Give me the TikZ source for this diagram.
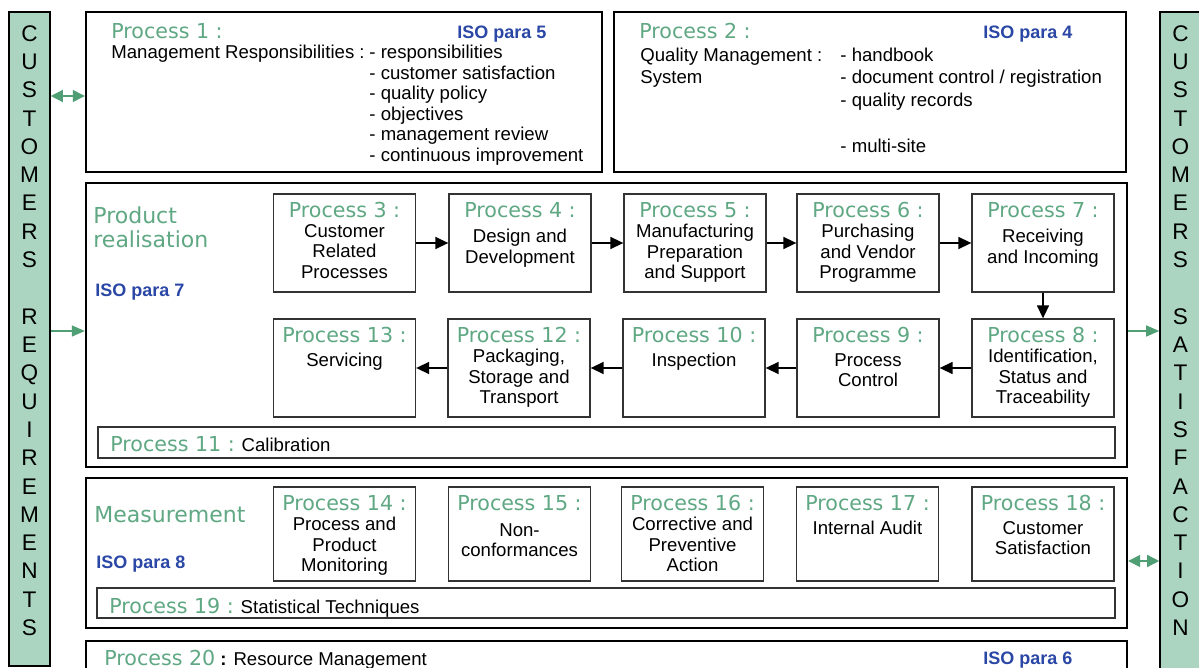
\documentclass[tikz,border=0pt]{standalone}
\usepackage{fontspec}
\setmainfont{Liberation Sans}
\newfontfamily\lblfont{DejaVu Sans}
\usepackage{tikz}
\usetikzlibrary{arrows.meta,positioning,calc}
\definecolor{barfill}{HTML}{ABD5C0}
\definecolor{pgreen}{HTML}{5FA883}
\definecolor{agreen}{HTML}{4F9E74}
\definecolor{isoblue}{HTML}{2A47A6}
\tikzset{
  frame/.style={draw, line width=1.2pt, inner sep=0pt},
  pbox/.style={draw=black!80, line width=0.65pt, minimum width=71pt, minimum height=49pt, inner sep=0pt},
  strip/.style={draw=black!80, line width=0.65pt, inner sep=0pt},
  sidebar/.style={draw, fill=barfill, line width=0.8pt, inner sep=0pt},
  barletter/.style={font=\fontsize{11.3}{13}\selectfont, anchor=base, inner sep=0pt},
  plbl/.style={font=\lblfont\fontsize{10.3}{12}\selectfont, text=pgreen, anchor=base, inner sep=0pt},
  pbody/.style={font=\fontsize{9.3}{10.25}\selectfont, align=center, anchor=north, inner sep=0pt},
  txt/.style={font=\fontsize{9.3}{10.25}\selectfont, anchor=base west, inner sep=0pt},
  section/.style={font=\lblfont\fontsize{11}{12}\selectfont, text=pgreen, align=left, inner sep=0pt},
  iso/.style={font=\fontsize{9}{11}\selectfont\bfseries, text=isoblue, anchor=base west, inner sep=0pt},
  flow/.style={-{Triangle[length=6.5pt,width=6pt]}, line width=0.75pt},
  gflow/.style={-{Triangle[length=6.5pt,width=5.5pt]}, line width=0.7pt, draw=agreen, fill=agreen},
  gbi/.style={{Triangle[length=6pt,width=6pt]}-{Triangle[length=6pt,width=6pt]}, line width=0.7pt, draw=agreen, fill=agreen},
}
\newcommand{\plabel}[1]{{\lblfont\fontsize{10.3}{12}\selectfont\color{pgreen}#1}}
\newcommand{\sideletters}[2]{%
  \foreach \ch [count=\i] in {#2} {%
    \node[barletter] (#1-\i) at ($(#1.north)+(0,30+28.3*\i-28.3)$) {\ch};
  }}
\newcommand{\proc}[5][0]{%
  \node[pbox] (#2) at (#3) {};
  \node[plbl] (#2l) at ($(#2.north)+(0,24)$) {Process #4 :};
  \node[pbody] (#2b) at ($(#2.north)+(0,30.5+#1)$) {#5};}

\begin{document}
\begin{tikzpicture}[x=0.5pt,y=-0.5pt]
  \useasboundingbox (0,0) rectangle (1199,668);
  \fill[white] (0,0) rectangle (1199,668);
  % customer bars
  \node[sidebar, minimum width=20.5pt, minimum height=327pt] (custreq) at (29.5,339) {};
  \node[sidebar, minimum width=20.5pt, minimum height=334pt] (custsat) at (1180.5,346) {};
  \sideletters{custreq}{C,U,S,T,O,M,E,R,S,{},R,E,Q,U,I,R,E,M,E,N,T,S}
  \sideletters{custsat}{C,U,S,T,O,M,E,R,S,{},S,A,T,I,S,F,A,C,T,I,O,N}

  % outer frames
  \node[frame, minimum width=258pt, minimum height=80pt] (p1) at (344,92) {};
  \node[frame, minimum width=256pt, minimum height=80pt] (p2) at (870,92) {};
  \node[frame, minimum width=520.5pt, minimum height=142pt] (prod) at (606.5,325) {};
  \node[frame, minimum width=520.5pt, minimum height=75pt] (meas) at (606.5,553) {};
  \node[frame, minimum width=520.5pt, minimum height=30pt] (p20) at (606.5,671) {};

  % process 1
  \node[plbl, anchor=base west] (p1l) at (111,39) {Process 1 :};
  \node[iso] (p1iso) at (457,38.5) {ISO para 5};
  \node[txt] (p1t) at (111,58.5) {Management Responsibilities :};
  \foreach \t [count=\i] in {responsibilities, customer satisfaction, quality policy,
      objectives, management review, continuous improvement}
    \node[txt] (p1i\i) at (369,58.5+20.6*\i-20.6) {- \t};

  % process 2
  \node[plbl, anchor=base west] (p2l) at (639,39) {Process 2 :};
  \node[iso] (p2iso) at (983,38.5) {ISO para 4};
  \node[txt] (p2t) at (640,61.5) {Quality Management :};
  \node[txt] (p2s) at (640,84) {System};
  \foreach \y/\t [count=\i] in {61.5/handbook, 84/{document control / registration},
      106.5/quality records, 152.5/multi-site}
    \node[txt] (p2i\i) at (840,\y) {- \t};

  % product realisation
  \node[section, anchor=north west] (prodt) at (93,206) {Product\\realisation};
  \node[iso] (prodiso) at (95,296.5) {ISO para 7};
  \proc{p3}{344.5,243}{3}{Customer\\Related\\Processes}
  \proc[5]{p4}{520,243}{4}{Design and\\Development}
  \proc{p5}{695,243}{5}{Manufacturing\\Preparation\\and Support}
  \proc{p6}{868,243}{6}{Purchasing\\and Vendor\\Programme}
  \proc[5]{p7}{1043,243}{7}{Receiving\\and Incoming}
  \proc{p8}{1043,368}{8}{Identification,\\Status and\\Traceability}
  \proc[4]{p9}{868,368}{9}{Process\\Control}
  \proc[4]{p10}{694,368}{10}{Inspection}
  \proc{p12}{519,368}{12}{Packaging,\\Storage and\\Transport}
  \proc[4]{p13}{344.5,368}{13}{Servicing}
  \foreach \a/\b in {p3/p4,p4/p5,p5/p6,p6/p7,p7/p8,p8/p9,p9/p10,p10/p12,p12/p13}
    \draw[flow] (\a) -- (\b);
  \node[strip, minimum width=508.5pt, minimum height=15.5pt] (p11) at (606.5,442.5) {};
  \node[txt] (p11t) at (110,451) {\plabel{Process 11 :} Calibration};

  % measurement
  \node[section, anchor=base west] (meast) at (94,522) {Measurement};
  \node[iso] (measiso) at (96,568.5) {ISO para 8};
  \begin{scope}[pbox/.append style={minimum height=47pt}]
    \proc{p14}{344.5,534}{14}{Process and\\Product\\Monitoring}
    \proc[6]{p15}{519.5,534}{15}{Non-\\conformances}
    \proc{p16}{692.5,534}{16}{Corrective and\\Preventive\\Action}
    \proc[4]{p17}{867.5,534}{17}{Internal Audit}
    \proc[4]{p18}{1043,534}{18}{Customer\\Satisfaction}
  \end{scope}
  \node[strip, minimum width=509pt, minimum height=15pt] (p19) at (606,603) {};
  \node[txt] (p19t) at (109,613) {\plabel{Process 19 :} Statistical Techniques};

  % process 20
  \node[txt] (p20t) at (104,665) {\plabel{Process 20} \textbf{:} Resource Management};
  \node[iso] (p20iso) at (983,664.5) {ISO para 6};

  % customer links
  \draw[gbi] ($(custreq.east |- p1.west)+(0,4)$) -- ($(p1.west)+(0,4)$);
  \draw[gflow] ($(custreq.east |- prod.west)+(0,6)$) -- ($(prod.west)+(0,6)$);
  \draw[gflow] ($(prod.east)+(0,6)$) -- ($(custsat.west |- prod.east)+(0,6)$);
  \draw[gbi] ($(meas.east)+(0,8)$) -- ($(custsat.west |- meas.east)+(0,8)$);
\end{tikzpicture}
\end{document}
